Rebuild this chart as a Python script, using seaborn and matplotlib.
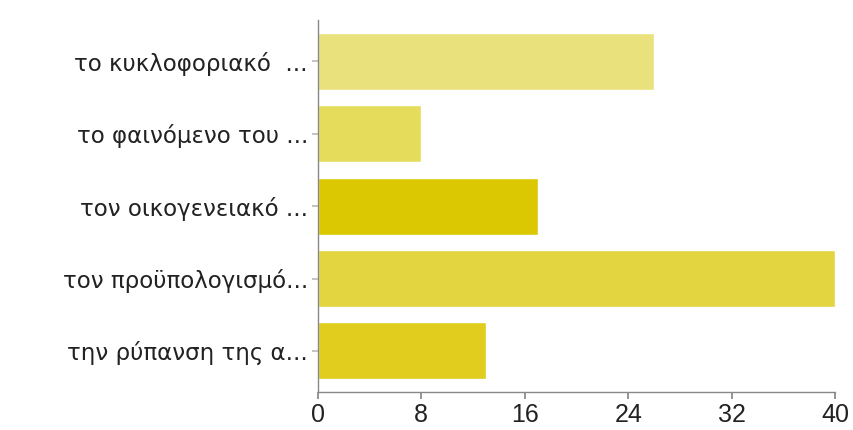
import matplotlib
matplotlib.use("Agg")
import matplotlib.pyplot as plt
import seaborn as sns
import pandas as pd

# Data
categories = [
    "το κυκλοφοριακό  ...",
    "το φαινόμενο του ...",
    "τον οικογενειακό ...",
    "τον προϋπολογισμό...",
    "την ρύπανση της α...",
]
counts = [26, 8, 17, 40, 13]
bar_colors = ["#e9e17c", "#e6dc5c", "#dcc802", "#e3d540", "#e1cd1e"]
x_ticks = [0, 8, 16, 24, 32, 40]

sns.set_theme(style="white")
plt.rcParams['font.family'] = ['DejaVu Sans']

df = pd.DataFrame({"category": categories, "count": counts})

fig = plt.figure(figsize=(8.54, 4.30), dpi=100)
ax = fig.add_axes([0.372, 0.088, 0.606, 0.865])

sns.barplot(data=df, x="count", y="category", hue="category",
            palette=bar_colors, legend=False, width=0.79,
            saturation=1, ax=ax)

ax.set_xlim(0, 40)
ax.set_ylim(4.57, -0.57)
ax.set_xticks(x_ticks)
ax.set_xlabel("")
ax.set_ylabel("")

for side in ["top", "right"]:
    ax.spines[side].set_visible(False)
for side in ["left", "bottom"]:
    ax.spines[side].set_color("#888888")
    ax.spines[side].set_linewidth(1.0)

ax.tick_params(axis="x", bottom=True, length=5, color="#888888",
               labelsize=18, pad=3, labelcolor="#222222")
ax.tick_params(axis="y", left=True, length=4, color="#bbbbbb",
               labelsize=16.5, pad=3, labelcolor="#222222")
for lbl in ax.get_xticklabels():
    lbl.set_family(['Liberation Sans', 'DejaVu Sans'])

fig.savefig("out.png", dpi=100)
